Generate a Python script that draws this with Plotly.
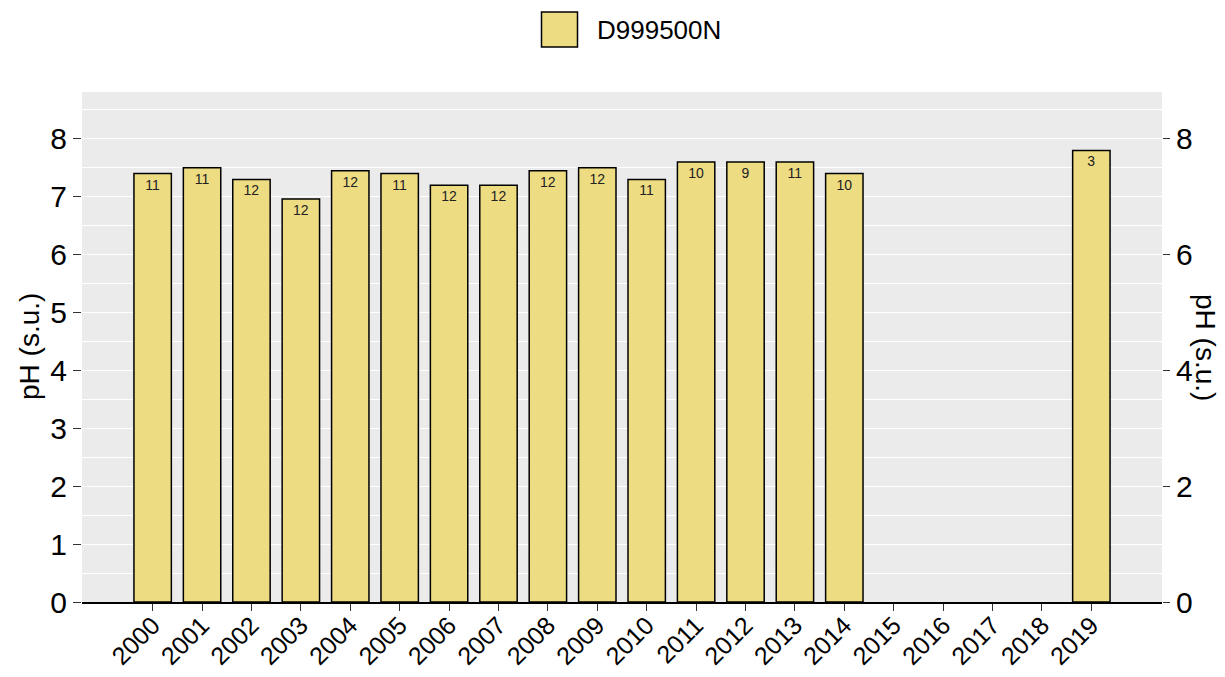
import plotly.graph_objects as go

years = [str(y) for y in range(2000, 2020)]
ph_values = [7.4, 7.5, 7.3, 6.96, 7.45, 7.4, 7.2, 7.2, 7.45, 7.5, 7.3, 7.6, 7.6, 7.6, 7.4,
             None, None, None, None, 7.8]
counts = [11, 11, 12, 12, 12, 11, 12, 12, 12, 12, 11, 10, 9, 11, 10,
          None, None, None, None, 3]
series_name = "D999500N"
y_title = "pH (s.u.)"

FILL = "#EEDC82"
PANEL = "#EBEBEB"
FONT = "Liberation Sans, Arial, sans-serif"

count_text = ["" if c is None else str(c) for c in counts]

fig = go.Figure()
fig.add_trace(go.Bar(
    x=years, y=ph_values, width=0.757,
    marker=dict(color=FILL, line=dict(color="black", width=1.5)),
    text=count_text, textposition="inside", insidetextanchor="end",
    textangle=0, constraintext="none",
    insidetextfont=dict(size=14, color="#222222", family=FONT),
    name=series_name, showlegend=False, hoverinfo="x+y",
))
# invisible trace so the secondary (right) axis is drawn
fig.add_trace(go.Scatter(x=years, y=ph_values, yaxis="y2", mode="none",
                         showlegend=False, hoverinfo="skip"))

yr_range = [0, 8.81]
fig.update_layout(
    width=1217, height=669,
    margin=dict(l=74, r=63, t=84, b=75),
    paper_bgcolor="white", plot_bgcolor=PANEL,
    font=dict(family=FONT, color="black"),
    xaxis=dict(
        type="category", categoryorder="array", categoryarray=years,
        range=[-1.43, 20.43], automargin=False,
        showgrid=False, zeroline=False,
        showline=True, linecolor="black", linewidth=1.5,
        ticks="outside", ticklen=7, tickcolor="#333333", tickwidth=1.3,
        tickangle=-45, tickfont=dict(size=25, color="black"),
        ticklabelstandoff=-10,
    ),
    yaxis=dict(
        range=yr_range, dtick=1, tick0=0, automargin=False,
        showgrid=True, gridcolor="white", gridwidth=1.3,
        minor=dict(dtick=0.5, showgrid=True, gridcolor="white", gridwidth=0.6),
        zeroline=False, showline=False,
        ticks="outside", ticklen=8, tickcolor="#333333", tickwidth=1.3,
        tickfont=dict(size=30, color="black"),
    ),
    yaxis2=dict(
        overlaying="y", side="right", range=yr_range, dtick=2, tick0=0,
        automargin=False,
        showgrid=False, zeroline=False, showline=False,
        ticks="outside", ticklen=7, tickcolor="#333333", tickwidth=1.3,
        tickfont=dict(size=30, color="black"),
    ),
)

# axis titles
fig.add_annotation(xref="paper", yref="paper", x=(29 - 82) / 1080, y=0.5, text=y_title,
                   textangle=-90, showarrow=False, xanchor="center", yanchor="middle",
                   font=dict(size=28, color="black", family=FONT))
fig.add_annotation(xref="paper", yref="paper", x=(1206 - 82) / 1080, y=0.5, text=y_title,
                   textangle=90, showarrow=False, xanchor="center", yanchor="middle",
                   font=dict(size=28, color="black", family=FONT))

# legend (drawn manually for the large key)
fig.add_shape(type="rect", xref="paper", yref="paper",
              x0=(541.5 - 82) / 1080, x1=(577.5 - 82) / 1080,
              y0=(602 - 47) / 510, y1=(602 - 12) / 510,
              fillcolor=FILL, line=dict(color="black", width=1.5))
fig.add_annotation(xref="paper", yref="paper", x=(595 - 82) / 1080, y=(602 - 30) / 510,
                   text=series_name, showarrow=False, xanchor="left", yanchor="middle",
                   font=dict(size=26, color="black", family=FONT))

fig.write_html("out.html")
